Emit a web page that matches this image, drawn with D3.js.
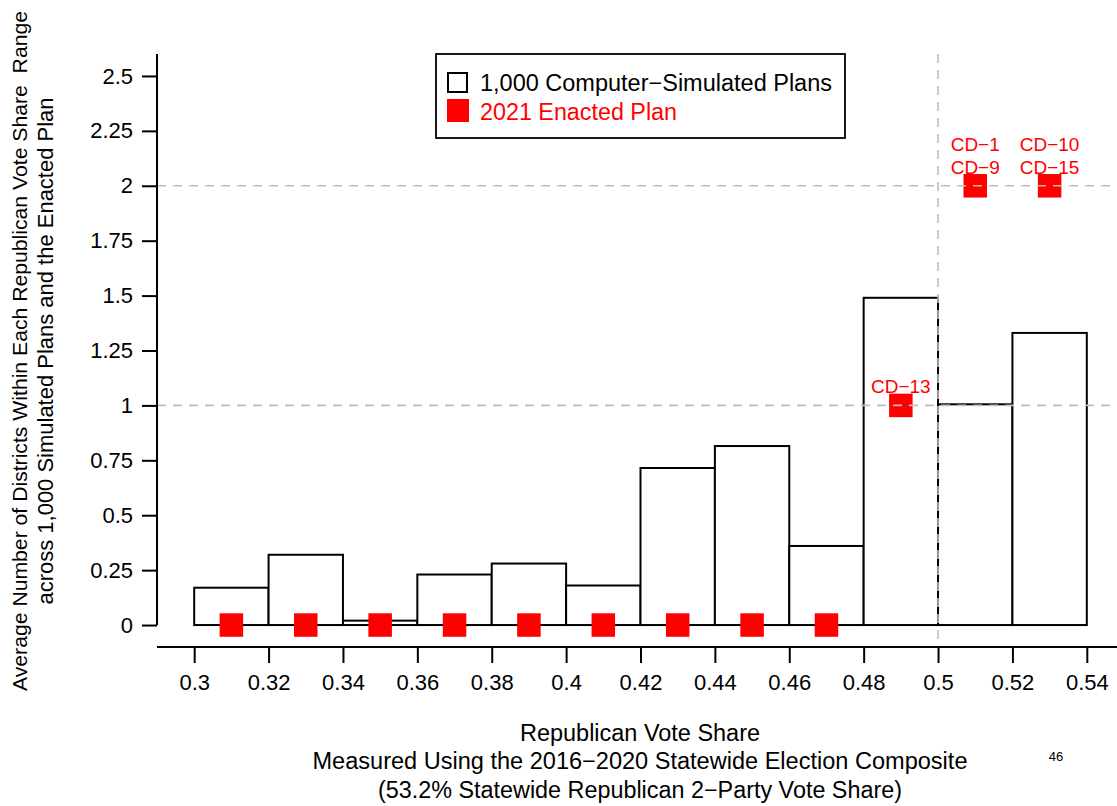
<!DOCTYPE html>
<html>
<head>
<meta charset="utf-8">
<script src="https://cdn.jsdelivr.net/npm/d3@7"></script>
<style>
  html, body { margin: 0; padding: 0; background: #fff; }
  svg { display: block; font-family: "Liberation Sans", Arial, Helvetica, sans-serif; }
</style>
</head>
<body>
<svg id="chart" width="1117" height="806"></svg>
<script>
// Histogram bins of Republican vote share (left edges) and bin width
const binStarts = [0.30, 0.32, 0.34, 0.36, 0.38, 0.40, 0.42, 0.44, 0.46, 0.48, 0.50, 0.52];
const binWidth = 0.02;

// Average number of districts per bin across the 1,000 simulated plans
const simulatedAvg = [0.17, 0.32, 0.02, 0.23, 0.28, 0.18, 0.715, 0.815, 0.36, 1.49, 1.005, 1.33];

// Number of districts per bin in the 2021 enacted plan
const enactedCounts = [0, 0, 0, 0, 0, 0, 0, 0, 0, 1, 2, 2];

// District labels for the enacted plan's non-empty bins
const enactedLabels = [[], [], [], [], [], [], [], [], [], ["CD\u221213"], ["CD\u22121", "CD\u22129"], ["CD\u221210", "CD\u221215"]];

// Axis ticks
const xTicks = [0.3, 0.32, 0.34, 0.36, 0.38, 0.4, 0.42, 0.44, 0.46, 0.48, 0.5, 0.52, 0.54];
const yTicks = [0, 0.25, 0.5, 0.75, 1, 1.25, 1.5, 1.75, 2, 2.25, 2.5];

// Reference lines
const hRefLines = [1, 2];
const vRefLines = [0.5];

// Legend entries
const legendItems = ["1,000 Computer\u2212Simulated Plans", "2021 Enacted Plan"];

const svg = d3.select("#chart");

const x = d3.scaleLinear().domain([0.29, 0.55]).range([157, 1124]);
const y = d3.scaleLinear().domain([-0.1, 2.6]).range([647, 54]);

const plotLeft = x(0.29), plotTop = y(2.6), plotBottom = y(-0.1);

// Simulated-plan histogram bars
svg.append("g").selectAll("rect")
  .data(binStarts)
  .join("rect")
  .attr("x", d => x(d))
  .attr("width", d => x(d + binWidth) - x(d))
  .attr("y", (d, i) => y(simulatedAvg[i]))
  .attr("height", (d, i) => y(0) - y(simulatedAvg[i]))
  .attr("fill", "#fff")
  .attr("stroke", "#000")
  .attr("stroke-width", 2);

// District labels above the enacted-plan markers
const labelGroup = svg.append("g")
  .attr("fill", "#ff0000")
  .attr("font-size", 19)
  .attr("text-anchor", "middle");
binStarts.forEach((d, i) => {
  const labs = enactedLabels[i];
  const cx = x(d + binWidth / 2);
  const cy = y(enactedCounts[i]);
  labs.forEach((t, j) => {
    labelGroup.append("text")
      .attr("x", cx)
      .attr("y", cy - 12 - (labs.length - 1 - j) * 23)
      .text(t);
  });
});

// Enacted-plan markers
const sq = 23.5;
svg.append("g").selectAll("rect")
  .data(binStarts)
  .join("rect")
  .attr("x", d => x(d + binWidth / 2) - sq / 2)
  .attr("y", (d, i) => y(enactedCounts[i]) - sq / 2)
  .attr("width", sq)
  .attr("height", sq)
  .attr("fill", "#ff0000");

// Dashed reference lines
const refGroup = svg.append("g")
  .attr("stroke", "#bebebe")
  .attr("stroke-width", 1.6)
  .attr("stroke-dasharray", "9,7");
refGroup.selectAll("line.h")
  .data(hRefLines)
  .join("line")
  .attr("class", "h")
  .attr("x1", plotLeft).attr("x2", 1117)
  .attr("y1", d => y(d)).attr("y2", d => y(d));
refGroup.selectAll("line.v")
  .data(vRefLines)
  .join("line")
  .attr("class", "v")
  .attr("x1", d => x(d)).attr("x2", d => x(d))
  .attr("y1", plotTop).attr("y2", plotBottom);

// X axis
const xAxis = svg.append("g")
  .attr("transform", `translate(0,${plotBottom})`)
  .call(d3.axisBottom(x).tickValues(xTicks).tickFormat(d => String(d)).tickSize(16).tickSizeOuter(0).tickPadding(11));
xAxis.select(".domain").attr("d", `M${plotLeft},0H1117`);
xAxis.selectAll("line, path").attr("stroke", "#000").attr("stroke-width", 2);
xAxis.selectAll("text").attr("font-size", 22).attr("fill", "#000")
  .attr("font-family", "Liberation Sans, Arial, sans-serif");

// Y axis
const yAxis = svg.append("g")
  .attr("transform", `translate(${plotLeft},0)`)
  .call(d3.axisLeft(y).tickValues(yTicks).tickFormat(d => String(d)).tickSize(15).tickSizeOuter(0).tickPadding(9));
yAxis.select(".domain").attr("d", `M0,${plotTop}V${y(0)}`);
yAxis.selectAll("line, path").attr("stroke", "#000").attr("stroke-width", 2);
yAxis.selectAll("text").attr("font-size", 22).attr("fill", "#000")
  .attr("font-family", "Liberation Sans, Arial, sans-serif");

// Legend
const lg = svg.append("g");
lg.append("rect")
  .attr("x", 436).attr("y", 54).attr("width", 409).attr("height", 84)
  .attr("fill", "#fff").attr("stroke", "#000").attr("stroke-width", 1.8);
lg.append("rect")
  .attr("x", 448).attr("y", 73).attr("width", 19).attr("height", 19)
  .attr("fill", "#fff").attr("stroke", "#000").attr("stroke-width", 2);
lg.append("rect")
  .attr("x", 447).attr("y", 99).attr("width", 22).attr("height", 23)
  .attr("fill", "#ff0000");
lg.append("text")
  .attr("x", 480).attr("y", 91).attr("font-size", 23).attr("fill", "#000")
  .attr("textLength", 352).attr("lengthAdjust", "spacingAndGlyphs")
  .text(legendItems[0]);
lg.append("text")
  .attr("x", 480).attr("y", 119.5).attr("font-size", 23).attr("fill", "#ff0000")
  .attr("textLength", 197).attr("lengthAdjust", "spacingAndGlyphs")
  .text(legendItems[1]);

// Axis titles
const xTitle = [
  { t: "Republican Vote Share", y: 741, w: 240 },
  { t: "Measured Using the 2016\u22122020 Statewide Election Composite", y: 769, w: 655 },
  { t: "(53.2% Statewide Republican 2\u2212Party Vote Share)", y: 797.5, w: 524 }
];
svg.append("g").selectAll("text")
  .data(xTitle)
  .join("text")
  .attr("x", 640)
  .attr("y", d => d.y)
  .attr("text-anchor", "middle")
  .attr("font-size", 23)
  .attr("textLength", d => d.w)
  .attr("lengthAdjust", "spacingAndGlyphs")
  .text(d => d.t);

const yTitle = [
  { t: "Average Number of Districts Within Each Republican Vote Share  Range", x: 27, w: 680, fs: 20.6 },
  { t: "across 1,000 Simulated Plans and the Enacted Plan", x: 53, w: 507, fs: 22 }
];
svg.append("g").selectAll("text")
  .data(yTitle)
  .join("text")
  .attr("transform", d => `translate(${d.x},351) rotate(-90)`)
  .attr("text-anchor", "middle")
  .attr("font-size", d => d.fs)
  .style("white-space", "pre")
  .attr("textLength", d => d.w)
  .attr("lengthAdjust", "spacingAndGlyphs")
  .text(d => d.t);

// Page number
svg.append("text")
  .attr("x", 1056).attr("y", 761)
  .attr("text-anchor", "middle")
  .attr("font-size", 13)
  .text("46");
</script>
</body>
</html>
